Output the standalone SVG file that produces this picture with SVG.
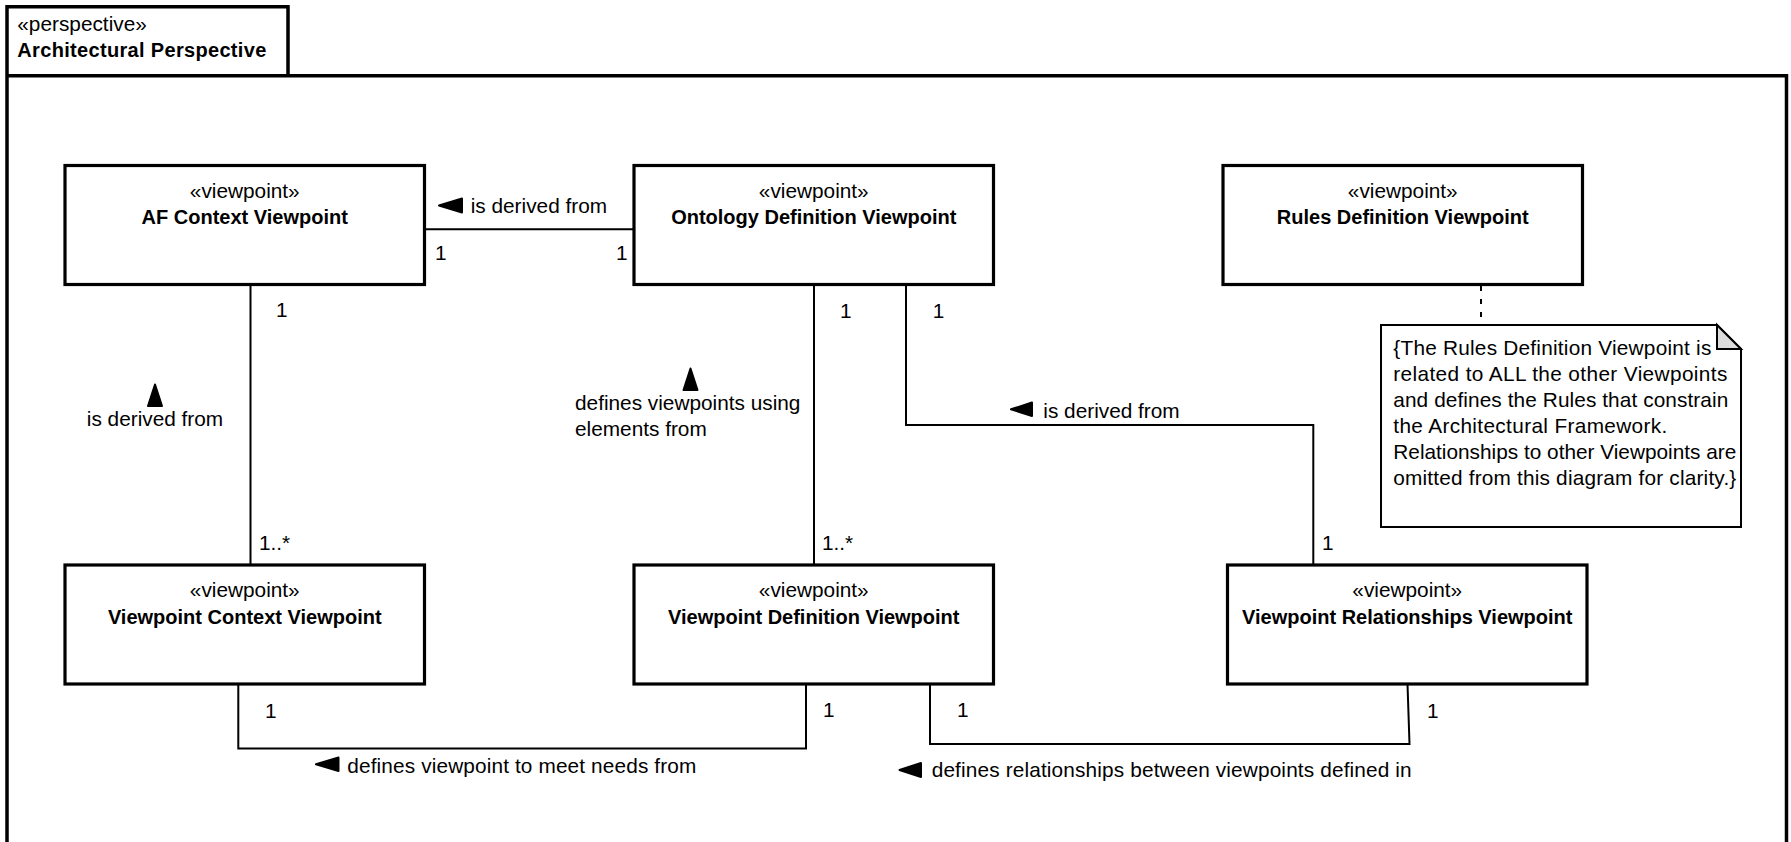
<svg xmlns="http://www.w3.org/2000/svg" width="1791" height="842" viewBox="0 0 1791 842">
  <style>
    .frame { fill: none; stroke: #000; stroke-width: 3.5; }
    .box { fill: #fff; stroke: #000; stroke-width: 3.2; }
    .conn { fill: none; stroke: #000; stroke-width: 2; }
    .dash { fill: none; stroke: #000; stroke-width: 2; stroke-dasharray: 5 8; }
    .note { fill: #fff; stroke: #000; stroke-width: 2; stroke-linejoin: miter; }
    .fold { fill: #dcdcdc; stroke: #000; stroke-width: 2; }
    .arr { fill: #000; stroke: #000; stroke-width: 2; stroke-linejoin: round; }
    text { font-family: "Liberation Sans", Arial, sans-serif; font-size: 20.8px; fill: #000; }
    .b { font-weight: bold; font-size: 20px; }
    .c { text-anchor: middle; }
  </style>

  <rect width="1791" height="842" fill="#fff"/>

  <!-- package frame with name tab -->
  <g id="perspective-frame">
    <path class="frame" d="M7,860 V6.7 H288 V75.7 M7,75.7 H1786.5 V860"/>
    <text x="17.3" y="31">«perspective»</text>
    <text class="b" x="17.3" y="57.3" textLength="249" lengthAdjust="spacing">Architectural Perspective</text>
  </g>

  <!-- connectors -->
  <g id="connectors">
    <path class="conn" d="M424.5,229.3 H634"/>
    <path class="conn" d="M250.5,284.5 V565"/>
    <path class="conn" d="M814,284.5 V565"/>
    <path class="conn" d="M906,284.5 V425 H1313.3 V565"/>
    <path class="dash" d="M1481,286 V325"/>
    <path class="conn" d="M238.3,684 V748.5 H806 V684"/>
    <path class="conn" d="M930,684 V744 H1409.5 L1407.5,684"/>

    <!-- AF Context / Ontology -->
    <text x="435" y="260">1</text>
    <text x="616" y="260">1</text>
    <polygon class="arr" points="439,205.5 462,198.5 462,212.5"/>
    <text x="470.7" y="213.3">is derived from</text>

    <!-- AF Context / Viewpoint Context -->
    <text x="276" y="317">1</text>
    <text x="259" y="550">1..*</text>
    <polygon class="arr" points="155,384.5 148,406 162,406"/>
    <text class="c" x="155" y="426">is derived from</text>

    <!-- Ontology / Viewpoint Definition -->
    <text x="840" y="318">1</text>
    <text x="822" y="550">1..*</text>
    <polygon class="arr" points="690.5,368.5 683.5,390 697.5,390"/>
    <text x="575" y="410">defines viewpoints using</text>
    <text x="575" y="436">elements from</text>

    <!-- Ontology / Viewpoint Relationships -->
    <text x="932.7" y="318">1</text>
    <text x="1322" y="550">1</text>
    <polygon class="arr" points="1011,409.3 1032,402.5 1032,416"/>
    <text x="1043.3" y="417.7">is derived from</text>

    <!-- Viewpoint Context / Viewpoint Definition -->
    <text x="265" y="718">1</text>
    <text x="823" y="717">1</text>
    <polygon class="arr" points="316,764.3 338.5,757.5 338.5,771"/>
    <text x="347.3" y="773.3" textLength="349" lengthAdjust="spacing">defines viewpoint to meet needs from</text>

    <!-- Viewpoint Definition / Viewpoint Relationships -->
    <text x="957" y="717">1</text>
    <text x="1427" y="718">1</text>
    <polygon class="arr" points="899.5,770 921,763 921,777"/>
    <text x="931.7" y="777.3" textLength="480" lengthAdjust="spacing">defines relationships between viewpoints defined in</text>
  </g>

  <g id="af-context-viewpoint">
    <rect class="box" x="65" y="165.5" width="359.5" height="119"/>
    <text class="c" x="244.75" y="197.5">«viewpoint»</text>
    <text class="b c" x="244.75" y="224">AF Context Viewpoint</text>
  </g>

  <g id="ontology-definition-viewpoint">
    <rect class="box" x="634" y="165.5" width="359.5" height="119"/>
    <text class="c" x="813.75" y="197.5">«viewpoint»</text>
    <text class="b c" x="813.75" y="224">Ontology Definition Viewpoint</text>
  </g>

  <g id="rules-definition-viewpoint">
    <rect class="box" x="1223" y="165.5" width="359.5" height="119"/>
    <text class="c" x="1402.75" y="197.5">«viewpoint»</text>
    <text class="b c" x="1402.75" y="224">Rules Definition Viewpoint</text>
  </g>

  <g id="viewpoint-context-viewpoint">
    <rect class="box" x="65" y="565" width="359.5" height="119"/>
    <text class="c" x="244.75" y="597">«viewpoint»</text>
    <text class="b c" x="244.75" y="624">Viewpoint Context Viewpoint</text>
  </g>

  <g id="viewpoint-definition-viewpoint">
    <rect class="box" x="634" y="565" width="359.5" height="119"/>
    <text class="c" x="813.75" y="597">«viewpoint»</text>
    <text class="b c" x="813.75" y="624">Viewpoint Definition Viewpoint</text>
  </g>

  <g id="viewpoint-relationships-viewpoint">
    <rect class="box" x="1227.5" y="565" width="359.5" height="119"/>
    <text class="c" x="1407.25" y="597">«viewpoint»</text>
    <text class="b c" x="1407.25" y="624">Viewpoint Relationships Viewpoint</text>
  </g>

  <g id="rules-note">
    <path class="note" d="M1381,325 H1717 L1741,349 V527 H1381 Z"/>
    <path class="fold" d="M1717,325 V349 H1741 Z"/>
    <text x="1393.3" y="354.5" textLength="318" lengthAdjust="spacing">{The Rules Definition Viewpoint is</text>
    <text x="1393.3" y="380.5" textLength="334" lengthAdjust="spacing">related to ALL the other Viewpoints</text>
    <text x="1393.3" y="406.5" textLength="335" lengthAdjust="spacing">and defines the Rules that constrain</text>
    <text x="1393.3" y="432.5" textLength="274" lengthAdjust="spacing">the Architectural Framework.</text>
    <text x="1393.3" y="458.5" textLength="343" lengthAdjust="spacing">Relationships to other Viewpoints are</text>
    <text x="1393.3" y="484.5" textLength="343" lengthAdjust="spacing">omitted from this diagram for clarity.}</text>
  </g>
</svg>
